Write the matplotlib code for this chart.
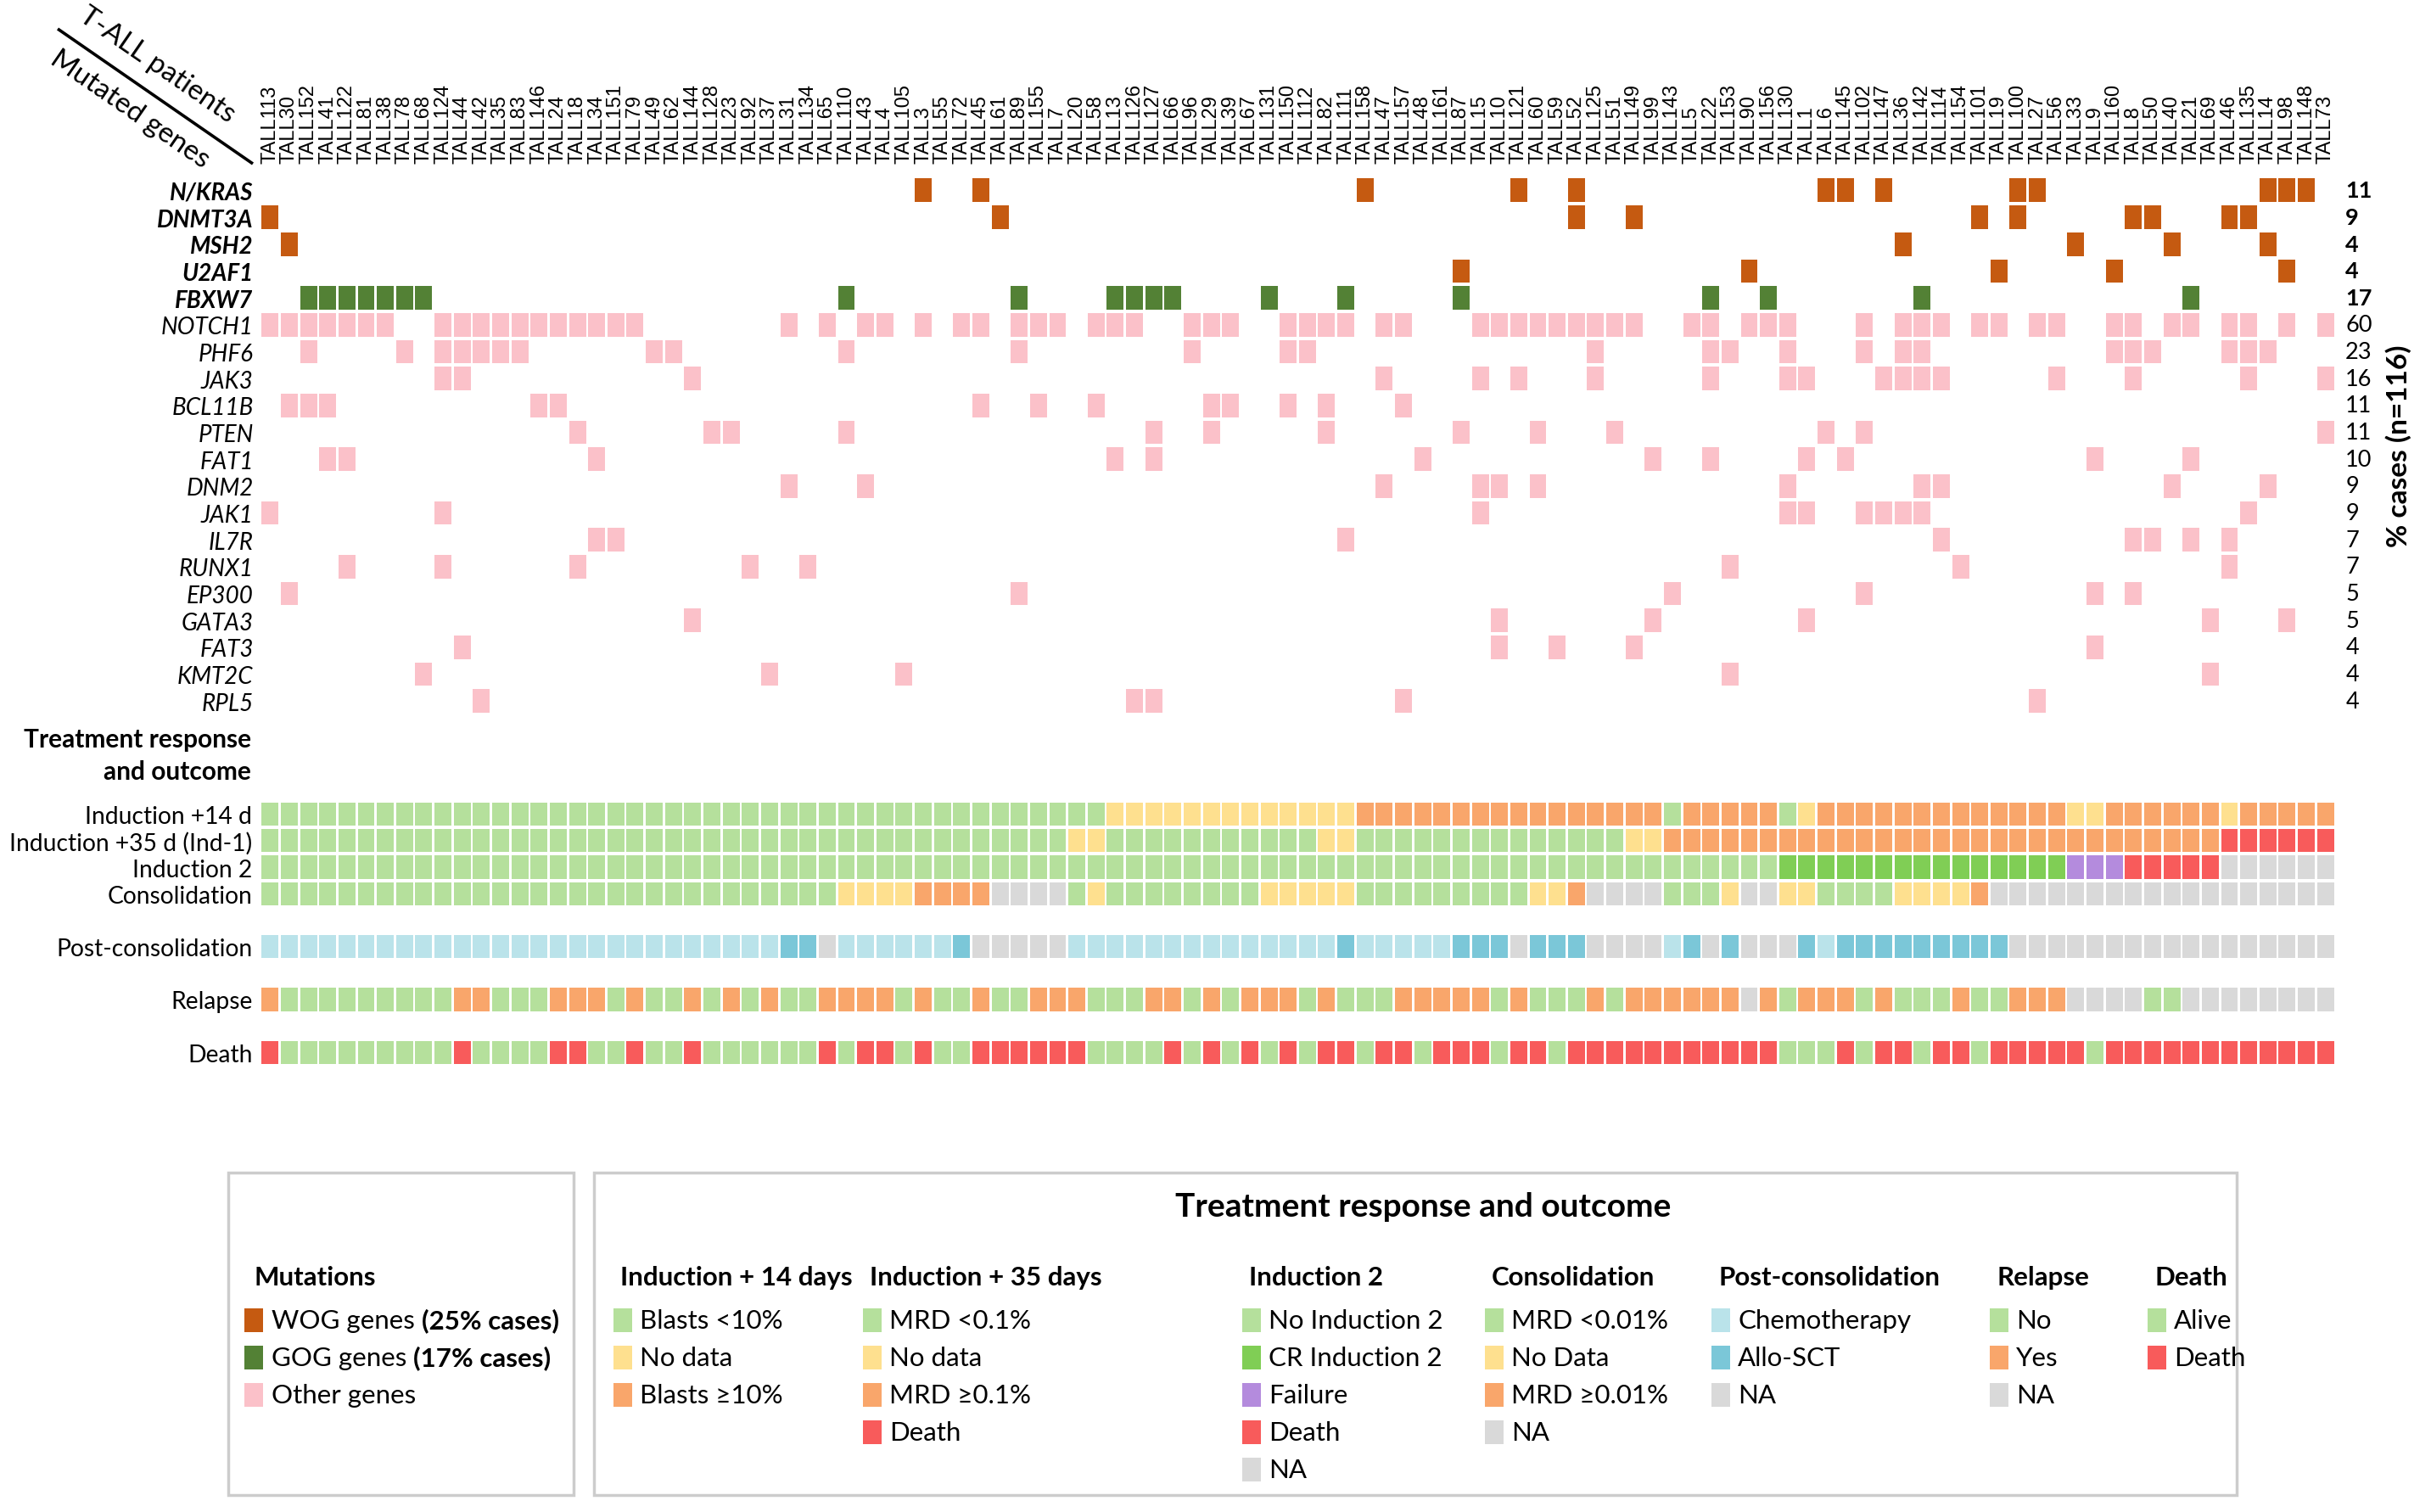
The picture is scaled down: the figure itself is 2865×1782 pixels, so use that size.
import matplotlib
matplotlib.use('Agg')
import matplotlib.pyplot as plt
from matplotlib.patches import Rectangle

plt.rcParams['font.family'] = ['Lato', 'DejaVu Sans']

W, H, DPI = 2865, 1783, 100

PATIENTS = ['TALL113', 'TALL30', 'TALL152', 'TALL41', 'TALL122', 'TALL81', 'TALL38', 'TALL78',
            'TALL68', 'TALL124', 'TALL44', 'TALL42', 'TALL35', 'TALL83', 'TALL146', 'TALL24',
            'TALL18', 'TALL34', 'TALL151', 'TALL79', 'TALL49', 'TALL62', 'TALL144', 'TALL128',
            'TALL23', 'TALL92', 'TALL37', 'TALL31', 'TALL134', 'TALL65', 'TALL110', 'TALL43',
            'TALL4', 'TALL105', 'TALL3', 'TALL55', 'TALL72', 'TALL45', 'TALL61', 'TALL89',
            'TALL155', 'TALL7', 'TALL20', 'TALL58', 'TALL13', 'TALL126', 'TALL127', 'TALL66',
            'TALL96', 'TALL29', 'TALL39', 'TALL67', 'TALL131', 'TALL150', 'TALL112', 'TALL82',
            'TALL111', 'TALL158', 'TALL47', 'TALL157', 'TALL48', 'TALL161', 'TALL87', 'TALL15',
            'TALL10', 'TALL121', 'TALL60', 'TALL59', 'TALL52', 'TALL125', 'TALL51', 'TALL149',
            'TALL99', 'TALL143', 'TALL5', 'TALL22', 'TALL153', 'TALL90', 'TALL156', 'TALL130',
            'TALL1', 'TALL6', 'TALL145', 'TALL102', 'TALL147', 'TALL36', 'TALL142', 'TALL114',
            'TALL154', 'TALL101', 'TALL19', 'TALL100', 'TALL27', 'TALL56', 'TALL33', 'TALL9',
            'TALL160', 'TALL8', 'TALL50', 'TALL40', 'TALL21', 'TALL69', 'TALL46', 'TALL135',
            'TALL14', 'TALL98', 'TALL148', 'TALL73']

GENES = ['N/KRAS', 'DNMT3A', 'MSH2', 'U2AF1', 'FBXW7', 'NOTCH1', 'PHF6', 'JAK3', 'BCL11B',
         'PTEN', 'FAT1', 'DNM2', 'JAK1', 'IL7R', 'RUNX1', 'EP300', 'GATA3', 'FAT3', 'KMT2C', 'RPL5']
GENE_GROUP = ['WOG', 'WOG', 'WOG', 'WOG', 'GOG'] + ['other'] * 15
PCT = [11, 9, 4, 4, 17, 60, 23, 16, 11, 11, 10, 9, 9, 7, 7, 5, 5, 4, 4, 4]

# mutated patients (column index into PATIENTS)
NKRAS = [34, 37, 57, 65, 68, 81, 82, 84, 91, 92, 104, 105, 106]
DNMT3A = [0, 38, 68, 71, 89, 91, 97, 98, 102, 103]
MSH2 = [1, 85, 94, 99, 104]
U2AF1 = [62, 77, 90, 96, 105]
FBXW7 = [2, 3, 4, 5, 6, 7, 8, 30, 39, 44, 45, 46, 47, 52, 56, 62, 75, 78, 86, 100]
NOTCH1 = [0, 1, 2, 3, 4, 5, 6, 9, 10, 11, 12, 13, 14, 15, 16, 17, 18, 19, 27, 29, 31, 32,
          34, 36, 37, 39, 40, 41, 43, 44, 45, 48, 49, 50, 53, 54, 55, 56, 58, 59, 63, 64, 65,
          66, 67, 68, 69, 70, 71, 74, 75, 77, 78, 79, 83, 85, 86, 87, 89, 90, 92, 93, 96, 97,
          99, 100, 102, 103, 105, 107]
PHF6 = [2, 7, 9, 10, 11, 12, 13, 20, 21, 30, 39, 48, 53, 54, 69, 75, 76, 79, 83, 85, 86,
        96, 97, 98, 102, 103, 104]
JAK3 = [9, 10, 22, 58, 63, 65, 69, 75, 79, 80, 84, 85, 86, 87, 93, 97, 103, 107]
BCL11B = [1, 2, 3, 14, 15, 37, 40, 43, 49, 50, 53, 55, 59]
PTEN = [16, 23, 24, 30, 46, 49, 55, 62, 66, 70, 81, 83, 107]
FAT1 = [3, 4, 17, 44, 46, 60, 72, 75, 80, 82, 95, 100]
DNM2 = [27, 31, 58, 63, 64, 66, 79, 86, 87, 99, 104]
JAK1 = [0, 9, 63, 79, 80, 83, 84, 85, 86, 103]
IL7R = [17, 18, 56, 87, 97, 98, 100, 102]
RUNX1 = [4, 9, 16, 25, 28, 76, 88, 102]
EP300 = [1, 39, 73, 83, 95, 97]
GATA3 = [22, 64, 72, 80, 101, 105]
FAT3 = [10, 64, 67, 71, 95]
KMT2C = [8, 26, 33, 76, 101]
RPL5 = [11, 45, 46, 59, 92]
MUTATIONS = [NKRAS, DNMT3A, MSH2, U2AF1, FBXW7, NOTCH1, PHF6, JAK3, BCL11B, PTEN, FAT1,
             DNM2, JAK1, IL7R, RUNX1, EP300, GATA3, FAT3, KMT2C, RPL5]

# treatment response, one code per patient
# g light green, y yellow, o orange, r red, c CR green, p purple, n NA grey,
# l light blue (chemo), b blue (allo-SCT)
IND14 = ("gggggggggg" "gggggggggg" "gggggggggg" "gggggggggg" "ggggyyyyyy"
         "yyyyyyyooo" "oooooooooo" "ooogooooog" "yooooooooo" "ooooyyoooo" "ooyooooo")
IND35 = ("gggggggggg" "gggggggggg" "gggggggggg" "gggggggggg" "ggyygggggg"
         "gggggyyggg" "gggggggggg" "gyyooooooo" "oooooooooo" "oooooooooo" "oorrrrrr")
IND2 = ("gggggggggg" "gggggggggg" "gggggggggg" "gggggggggg" "gggggggggg"
        "gggggggggg" "gggggggggg" "gggggggggc" "cccccccccc" "ccccppprrr" "rrnnnnnn")
CONSOL = ("gggggggggg" "gggggggggg" "gggggggggg" "yyyyoooonn" "nngygggggg"
          "ggyyyyyggg" "ggggggyyon" "nnngggynny" "yggggyyyyo" "nnnnnnnnnn" "nnnnnnnn")
POSTC = ("llllllllll" "llllllllll" "lllllllbbn" "llllllbnnn" "nnllllllll"
         "llllllblll" "llbbbnbbbn" "nnnlbnbnnn" "blbbbbbbbb" "bnnnnnnnnn" "nnnnnnnn")
RELAPSE = ("oggggggggg" "oogggooogo" "ggogogoggo" "ooogoggogg" "ooogggoogo"
           "gooogogggo" "oooogogggo" "goooooonog" "ooogogggog" "gooonnnngg" "nnnnnnnn")
DEATH = ("rggggggggg" "rggggrrggr" "ggrggggggr" "grrgrggrrr" "rrrggggrgr"
         "grgrgrrgrr" "grrrgrrgrr" "rrrrrrrrrg" "ggrgrrgrrg" "rrrrrgrrrr" "rrrrrrrr")
TREATMENT = [IND14, IND35, IND2, CONSOL, POSTC, RELAPSE, DEATH]
TREAT_LABELS = ['Induction +14 d', 'Induction +35 d (Ind-1)', 'Induction 2', 'Consolidation',
                'Post-consolidation', 'Relapse', 'Death']
TREAT_ROWS = [0, 1, 2, 3, 5, 7, 9]

COLORS = {'g': '#b5e09c', 'y': '#fee08f', 'o': '#f9a66b', 'r': '#f85b5b', 'c': '#80ce55',
          'p': '#b48bdd', 'n': '#d9d9d9', 'l': '#bae3ea', 'b': '#7bc7d8'}
GROUP_COLORS = {'WOG': '#c55a11', 'GOG': '#538135', 'other': '#fbc1c9'}

LEG_TITLES = ['Induction + 14 days', 'Induction + 35 days', 'Induction 2', 'Consolidation',
              'Post-consolidation', 'Relapse', 'Death']
LEG_ITEMS = [
    [('Blasts <10%', 'g'), ('No data', 'y'), ('Blasts ≥10%', 'o')],
    [('MRD <0.1%', 'g'), ('No data', 'y'), ('MRD ≥0.1%', 'o'), ('Death', 'r')],
    [('No Induction 2', 'g'), ('CR Induction 2', 'c'), ('Failure', 'p'), ('Death', 'r'), ('NA', 'n')],
    [('MRD <0.01%', 'g'), ('No Data', 'y'), ('MRD ≥0.01%', 'o'), ('NA', 'n')],
    [('Chemotherapy', 'l'), ('Allo-SCT', 'b'), ('NA', 'n')],
    [('No', 'g'), ('Yes', 'o'), ('NA', 'n')],
    [('Alive', 'g'), ('Death', 'r')],
]
MUT_LEGEND = [('WOG genes ', '(25% cases)', 'WOG'), ('GOG genes ', '(17% cases)', 'GOG'),
              ('Other genes', '', 'other')]

CELL_W, CELL_H = 0.88, 0.875


def box(x0, y0, x1, y1):
    return [x0 / W, 1 - y1 / H, (x1 - x0) / W, (y1 - y0) / H]


fig = plt.figure(figsize=(W / DPI, H / DPI), dpi=DPI)
base = fig.add_axes([0, 0, 1, 1])
base.set_xlim(0, W)
base.set_ylim(H, 0)
base.axis('off')

# ---- mutation matrix
axm = fig.add_axes(box(307, 209.5, 2752, 843))
for row, hits in enumerate(MUTATIONS):
    axm.bar(hits, CELL_H, bottom=row - CELL_H / 2, width=CELL_W,
            color=GROUP_COLORS[GENE_GROUP[row]], linewidth=0)
axm.set_xlim(-0.5, len(PATIENTS) - 0.5)
axm.set_ylim(len(GENES) - 0.5, -0.5)
axm.set_xticks(range(len(PATIENTS)))
axm.set_xticklabels(PATIENTS, rotation=90, fontfamily='Liberation Sans', fontsize=17)
axm.set_yticks(range(len(GENES)))
axm.set_yticklabels(GENES, fontsize=20, fontstyle='italic')
for k, lbl in enumerate(axm.get_yticklabels()):
    if k < 5:
        lbl.set_fontweight('bold')
axm.tick_params(axis='x', top=True, labeltop=True, bottom=False, labelbottom=False,
                length=0, pad=12)
axm.tick_params(axis='y', length=0, pad=6)
for s in axm.spines.values():
    s.set_visible(False)
for row, p in enumerate(PCT):
    axm.text(1.005, row, str(p), transform=axm.get_yaxis_transform(), ha='left',
             va='center', fontsize=19.5, fontweight='bold' if row < 5 else 'normal')
base.text(2827, 526, '% cases (n=116)', rotation=90, ha='center', va='center',
          fontsize=24, fontweight='bold')

# ---- treatment response
axt = fig.add_axes(box(307, 945, 2752, 1257))
for y, codes in zip(TREAT_ROWS, TREATMENT):
    axt.bar(range(len(codes)), CELL_H, bottom=y - CELL_H / 2, width=CELL_W,
            color=[COLORS[c] for c in codes], linewidth=0)
axt.set_xlim(-0.5, len(PATIENTS) - 0.5)
axt.set_ylim(9.5, -0.5)
axt.set_xticks([])
axt.set_yticks(TREAT_ROWS)
axt.set_yticklabels(TREAT_LABELS, fontsize=20.3)
axt.tick_params(axis='y', length=0, pad=7)
for s in axt.spines.values():
    s.set_visible(False)
base.text(296, 891, 'Treatment response\nand outcome', ha='right', va='center',
          multialignment='right', fontsize=21.5, fontweight='bold', linespacing=1.45)

# ---- header corner
base.plot([68, 298], [35, 194], color='black', lw=2.6, solid_capstyle='butt')
base.text(185, 77, 'T-ALL patients', rotation=-34.6, rotation_mode='anchor',
          ha='center', va='center', fontsize=24)
base.text(153, 129, 'Mutated genes', rotation=-34.6, rotation_mode='anchor',
          ha='center', va='center', fontsize=24)

# ---- legends
for x0, x1 in [(269, 676), (700, 2636)]:
    base.add_patch(Rectangle((x0, 1383), x1 - x0, 380, fill=False, edgecolor='#cccccc', lw=2.5))

ITEM_Y0, ITEM_DY, SW, SH = 1557, 44.1, 22, 28

base.text(299, 1506, 'Mutations', ha='left', va='center', fontsize=22.5, fontweight='bold')
for k, (txt, bold, grp) in enumerate(MUT_LEGEND):
    y = ITEM_Y0 + k * ITEM_DY
    base.add_patch(Rectangle((288, y - SH / 2), SW, SH, color=GROUP_COLORS[grp], lw=0))
    t = base.text(320, y, txt, ha='left', va='center', fontsize=22.5)
    if bold:
        base.annotate(bold, xy=(1, 0.5), xycoords=t, ha='left', va='center',
                      fontsize=22.5, fontweight='bold')

base.text(1677, 1423, 'Treatment response and outcome', ha='center', va='center',
          fontsize=28, fontweight='bold')
LEG_X = [723, 1017, 1464, 1750, 2017, 2345, 2531]
for x, title, items in zip(LEG_X, LEG_TITLES, LEG_ITEMS):
    base.text(x + 8, 1506, title, ha='left', va='center', fontsize=22.5, fontweight='bold')
    for k, (txt, code) in enumerate(items):
        y = ITEM_Y0 + k * ITEM_DY
        base.add_patch(Rectangle((x, y - SH / 2), SW, SH, color=COLORS[code], lw=0))
        base.text(x + SW + 9, y, txt, ha='left', va='center', fontsize=22.5)

fig.savefig('out.png', dpi=DPI)
